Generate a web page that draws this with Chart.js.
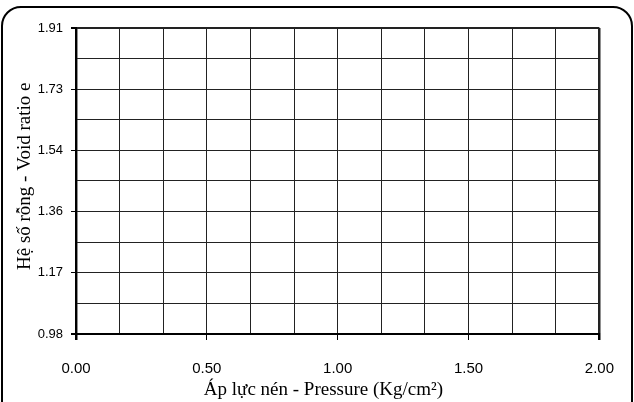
<!DOCTYPE html>
<html>
<head>
<meta charset="utf-8">
<script src="https://cdn.jsdelivr.net/npm/chart.js@4/dist/chart.umd.min.js"></script>
<style>
  html, body { margin: 0; padding: 0; background: #fff; }
  #wrap { position: relative; width: 634px; height: 402px; overflow: hidden; }
  #frame {
    position: absolute; left: 1px; top: 6px; width: 628px; height: 430px;
    border: 2px solid #000; border-radius: 20px;
  }
  #c { position: absolute; left: 0; top: 0; }
</style>
</head>
<body>
<div id="wrap">
  <div id="frame"></div>
  <canvas id="c" width="634" height="402"></canvas>
</div>
<script>
// grid positions and their labels (empty chart, only the grid is drawn)
const xGrid = [0, 0.1667, 0.3333, 0.5, 0.6667, 0.8333, 1, 1.1667, 1.3333, 1.5, 1.6667, 1.8333, 2];
const xLabels = ["0.00", "", "", "0.50", "", "", "1.00", "", "", "1.50", "", "", "2.00"];
const yGrid = [0.98, 1.073, 1.166, 1.259, 1.352, 1.445, 1.538, 1.631, 1.724, 1.817, 1.91];
const yLabels = ["0.98", "", "1.17", "", "1.36", "", "1.54", "", "1.73", "", "1.91"];
const points = [];

const sans = "'Liberation Sans', Arial, sans-serif";
const serif = "'Liberation Serif', 'Times New Roman', serif";

new Chart(document.getElementById("c"), {
  type: "scatter",
  data: {
    datasets: [{ data: points, borderColor: "#000", backgroundColor: "#000" }]
  },
  options: {
    responsive: false,
    devicePixelRatio: 1,
    animation: false,
    layout: { padding: { left: 0, top: 28, right: 34, bottom: 0 } },
    plugins: { legend: { display: false }, tooltip: { enabled: false } },
    scales: {
      x: {
        type: "linear",
        min: 0,
        max: 2,
        afterBuildTicks: (scale) => { scale.ticks = xGrid.map(v => ({ value: v })); },
        afterFit: (scale) => { scale.height = 68; },
        ticks: {
          autoSkip: false,
          maxRotation: 0,
          padding: 20,
          color: "#000",
          font: { family: sans, size: 15 },
          callback: (v, i) => xLabels[i]
        },
        grid: {
          color: "#222",
          lineWidth: (ctx) => (ctx.index === 0 || ctx.index === xGrid.length - 1) ? 2.5 : 1,
          tickLength: 6,
          tickColor: (ctx) => ctx.index % 3 === 0 ? "#000" : "rgba(0,0,0,0)"
        },
        border: { display: true, color: "#000", width: 2 },
        title: {
          display: true,
          // trailing spaces nudge the centred title a little to the left, as in the original
          text: "Áp lực nén - Pressure (Kg/cm²)\u2002\u2002\u2002",
          color: "#000",
          font: { family: serif, size: 19 },
          padding: { top: 0, bottom: 1 }
        }
      },
      y: {
        type: "linear",
        min: 0.98,
        max: 1.91,
        afterBuildTicks: (scale) => { scale.ticks = yGrid.map(v => ({ value: v })); },
        afterFit: (scale) => { scale.width = 76; },
        ticks: {
          autoSkip: false,
          padding: 8,
          color: "#000",
          font: { family: sans, size: 13 },
          callback: (v, i) => yLabels[i]
        },
        grid: {
          color: "#222",
          lineWidth: (ctx) => (ctx.index === 0 || ctx.index === yGrid.length - 1) ? 2 : 1,
          tickLength: 5,
          tickColor: (ctx) => ctx.index % 2 === 0 ? "#000" : "rgba(0,0,0,0)"
        },
        border: { display: true, color: "#000", width: 2 },
        title: {
          display: true,
          text: "\u2002Hệ số rỗng - Void ratio e",
          color: "#000",
          font: { family: serif, size: 19 },
          padding: { top: 14, bottom: 0 }
        }
      }
    }
  }
});
</script>
</body>
</html>
